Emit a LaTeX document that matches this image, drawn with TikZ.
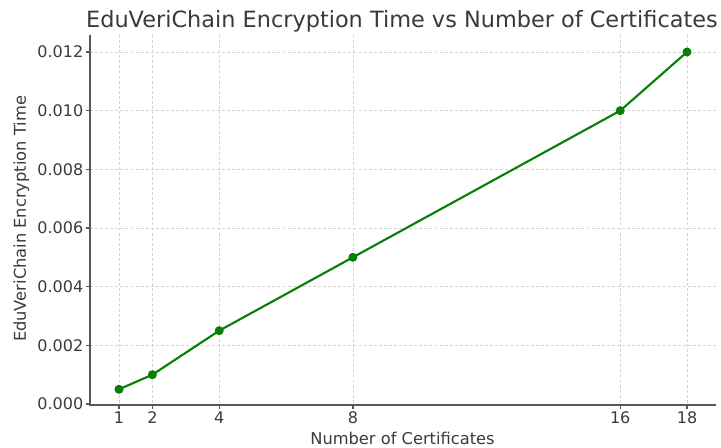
\documentclass[tikz,border=0pt]{standalone}
\usepackage{fontspec}
\setmainfont{DejaVu Sans}
\definecolor{txt}{HTML}{3A3A3A}
\definecolor{spine}{HTML}{595959}
\definecolor{gridc}{HTML}{D4D4D4}
\definecolor{series}{HTML}{088008}
\tikzset{
  tick label/.style={text=txt, font=\fontsize{12}{14}\selectfont, inner sep=0pt},
  axis title/.style={text=txt, font=\fontsize{12.2}{14}\selectfont, inner sep=0pt},
  grid line/.style={draw=gridc, line width=0.6pt, dash pattern=on 2.2pt off 1.6pt},
  axis line/.style={draw=spine, line width=1.2pt},
  tick mark/.style={draw=spine, line width=0.9pt},
  datapt/.style={circle, fill=series, inner sep=0pt, minimum size=6.8pt},
  series line/.style={draw=series, line width=1.6pt},
}
\begin{document}
\begin{tikzpicture}[x=0.75pt, y=-0.75pt]
  \useasboundingbox (0,0) rectangle (721,448);
  % x positions of the certificate counts
  \def\xa{119}\def\xb{152.4}\def\xc{219.2}\def\xd{352.9}\def\xe{620.2}\def\xf{687}
  % vertical grid lines and x ticks
  \foreach \x/\lab in {\xa/1,\xb/2,\xc/4,\xd/8,\xe/16,\xf/18}{
    \draw[grid line] (\x,35) -- (\x,405);
    \draw[tick mark] (\x,405) -- (\x,409);
    \node[tick label, anchor=base] at (\x,424) {\lab};
  }
  % horizontal grid lines and y ticks
  \foreach \y/\lab in {404/0.000,345.33/0.002,286.67/0.004,228/0.006,169.33/0.008,110.67/0.010,52/0.012}{
    \draw[grid line] (90,\y) -- (716,\y);
    \draw[tick mark] (86,\y) -- (90,\y);
    \node[tick label, anchor=base east] at (83.5,\y+5.8) {\lab};
  }
  % spines
  \draw[axis line] (90,35) -- (90,405.6);
  \draw[axis line] (89.4,405) -- (716,405);
  % data points
  \node[datapt] (p1) at (\xa,389.3) {};
  \node[datapt] (p2) at (\xb,374.7) {};
  \node[datapt] (p4) at (\xc,330.7) {};
  \node[datapt] (p8) at (\xd,257.3) {};
  \node[datapt] (p16) at (\xe,110.7) {};
  \node[datapt] (p18) at (\xf,52) {};
  \draw[series line] (p1.center) -- (p2.center) -- (p4.center) -- (p8.center) -- (p16.center) -- (p18.center);
  % titles
  \node[text=txt, font=\fontsize{16.8}{19}\selectfont, inner sep=0pt, anchor=base] (title) at (402,28) {EduVeriChain Encryption Time vs Number of Certificates};
  \node[axis title, anchor=base] (xlab) at (402.5,445) {Number of Certificates};
  \node[axis title, anchor=base, rotate=90] (ylab) at (26,219) {EduVeriChain Encryption Time};
\end{tikzpicture}
\end{document}
